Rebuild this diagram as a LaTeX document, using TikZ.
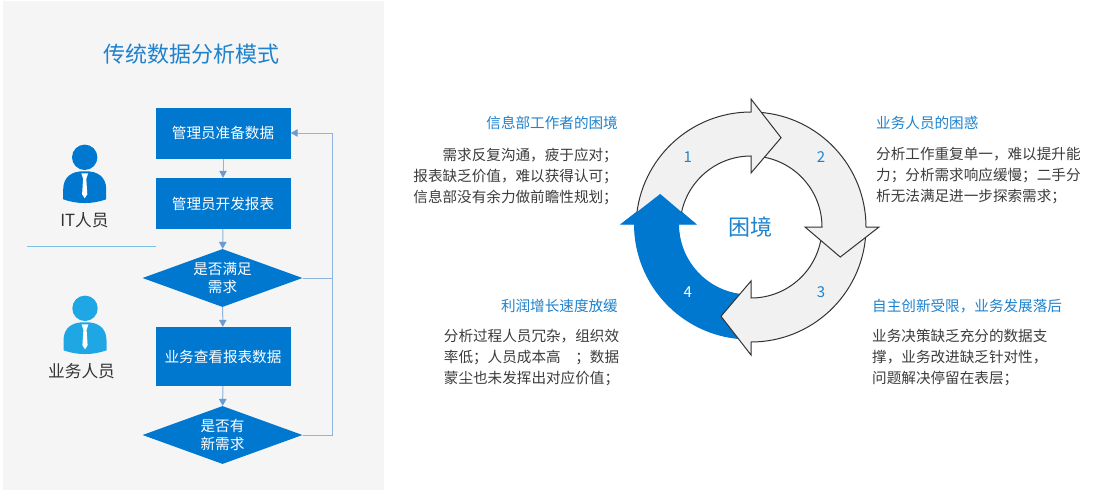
\documentclass[tikz,border=0pt]{standalone}
\usepackage{fontspec}
\setmainfont{Noto Sans CJK SC}
\usetikzlibrary{shapes.geometric,arrows.meta,positioning}
\definecolor{panelgray}{HTML}{F5F5F6}
\definecolor{boxblue}{HTML}{0078D0}
\definecolor{lightblue}{HTML}{1EA7E4}
\definecolor{headblue}{HTML}{1F82CC}
\definecolor{flowblue}{HTML}{8FB5DC}
\definecolor{tipblue}{HTML}{6D9BCF}
\definecolor{ruleblue}{HTML}{7CC0E8}
\definecolor{bodygray}{HTML}{3C3C3C}
\definecolor{ringgray}{HTML}{F1F1F1}
\tikzset
{
    stepbox/.style  = {rectangle, fill=boxblue, text=white, align=center, minimum width=135pt, inner sep=0pt, font=\fontsize{14.6}{18}\selectfont},
    askbox/.style   = {diamond, fill=boxblue, text=white, align=center, aspect=2.76, minimum width=160pt, minimum height=58pt, inner sep=0pt, font=\fontsize{14.6}{17.5}\selectfont},
    flowline/.style = {draw=flowblue, line width=1pt, >={Triangle[width=7.5pt, length=7pt, color=tipblue]}},
    rolename/.style = {text=black!80, inner sep=0pt, font=\fontsize{16.7}{20}\selectfont},
    headtext/.style = {text=headblue, inner sep=0pt, font=\fontsize{14.6}{18}\selectfont},
    bodytext/.style = {text=bodygray, inner sep=0pt, font=\fontsize{14.6}{21}\selectfont},
    ringnum/.style  = {text=headblue, inner sep=0pt, font=\fontsize{15}{17}\selectfont},
    ringshape/.style = {draw=black!80, fill=ringgray, line width=1pt, line join=miter}
}
% person icon: x, y of the head, colour
\newcommand{\personicon}[3]{
\fill[#3] (#1,#2) circle (12.7);
\fill[#3, shift={(#1,#2)}] (-21.5,42) -- (-21.5,32) .. controls (-21.5,19) and (-12,14) .. (-2,14) -- (2,14) .. controls (12,14) and (21.5,19) .. (21.5,32) -- (21.5,42) .. controls (8,47) and (-8,47) .. (-21.5,42) -- cycle;
\fill[white, shift={(#1,#2)}] (-3.4,16) -- (3.4,16) -- (1.6,21.5) -- (2.6,37) -- (0,41) -- (-2.6,37) -- (-1.6,21.5) -- cycle;
}
% ring arrow: angle of the head base, style
\newcommand{\ringarrow}[2]{
\draw[#2] (#1+86:115) arc[start angle=#1+86, end angle=#1, radius=115] -- (#1:128) -- (#1-18.6:94.2) -- (#1:54) -- (#1:71) arc[start angle=#1, end angle=#1+86, radius=71] -- cycle;
}

\begin{document}
\begin{tikzpicture}[x=1pt, y=-1pt]
\useasboundingbox (0,0) rectangle (1105,490);
\fill[white] (0,0) rectangle (1105,490);
\fill[panelgray] (3,1) rectangle (384,490);

\node (title)[text=headblue, inner sep=0pt, font=\fontsize{22}{26}\selectfont] at (191,54) {传统数据分析模式};

\node (prep)[stepbox, minimum height=51pt]  at (223,133)   {管理员准备数据};
\node (dev)[stepbox, minimum height=51pt]   at (223,203.5) {管理员开发报表};
\node (ask1)[askbox]                        at (222.5,278) {是否满足\\需求};
\node (view)[stepbox, minimum height=59pt]  at (223,356.5) {业务查看报表数据};
\node (ask2)[askbox]                        at (222.5,435) {是否有\\新需求};

\coordinate (backtop) at (332,133);
\coordinate (backmid) at (332,278);
\coordinate (backlow) at (332,435);

\draw[flowline, ->] (prep) -- (dev);
\draw[flowline, ->] (dev)  -- (ask1);
\draw[flowline, ->] (ask1) -- (view);
\draw[flowline, ->] (view) -- (ask2);
\draw[flowline]     (ask1) -- (backmid);
\draw[flowline, ->] (ask2) -- (backlow) -- (backtop) -- (prep);

\personicon{84.7}{157.3}{boxblue}
\personicon{85}{308.3}{lightblue}
\node (itrole)[rolename]  at (84.5,220) {IT人员};
\node (bizrole)[rolename] at (81.5,371) {业务人员};

\coordinate (rulea) at (27,246.5);
\coordinate (ruleb) at (156,246.5);
\draw[ruleblue, line width=1pt] (rulea) -- (ruleb);

% ring, each head lies over the tail of the next arrow
\begin{scope}[shift={(751,227)}, y=1pt]
\begin{scope}[xshift=-1.5pt, yshift=3pt]
\ringarrow{180}{draw=boxblue, fill=boxblue, line width=1pt}
\end{scope}
\ringarrow{270}{ringshape}
\ringarrow{0}{ringshape}
\ringarrow{90}{ringshape}
\begin{scope}[xshift=-1.5pt, yshift=3pt]
\fill[boxblue] (180:128) -- (161.4:94.2) -- (180:54) -- cycle;
\end{scope}
\end{scope}

\node (center)[text=headblue, inner sep=0pt, font=\fontsize{22}{26}\selectfont] at (750,227) {困境};
\node (one)[ringnum]              at (687.7,156.7) {1};
\node (two)[ringnum]              at (821,156.7)   {2};
\node (three)[ringnum]            at (821,291.7)   {3};
\node (four)[ringnum, text=white] at (687.7,291.7) {4};

\node (lefthead)[headtext, anchor=east] at (618,123) {信息部工作者的困境};
\node (leftbody)[bodytext, anchor=east, align=right] at (618,176) {需求反复沟通，疲于应对；\\报表缺乏价值，难以获得认可；\\信息部没有余力做前瞻性规划；};
\node (lowhead)[headtext, anchor=east] at (618,306) {利润增长速度放缓};
\node (lowbody)[bodytext, anchor=west, align=left] at (443.7,358) {分析过程人员冗杂，组织效\\率低；人员成本高　；数据\\蒙尘也未发挥出对应价值；};

\node (righthead)[headtext, anchor=west] at (876,123) {业务人员的困惑};
\node (rightbody)[bodytext, anchor=west, align=left] at (876,176) {分析工作重复单一，难以提升能\\力；分析需求响应缓慢；二手分\\析无法满足进一步探索需求；};
\node (sidehead)[headtext, anchor=west] at (872,306) {自主创新受限，业务发展落后};
\node (sidebody)[bodytext, anchor=west, align=left] at (872,358) {业务决策缺乏充分的数据支\\撑，业务改进缺乏针对性，\\问题解决停留在表层；};
\end{tikzpicture}
\end{document}
